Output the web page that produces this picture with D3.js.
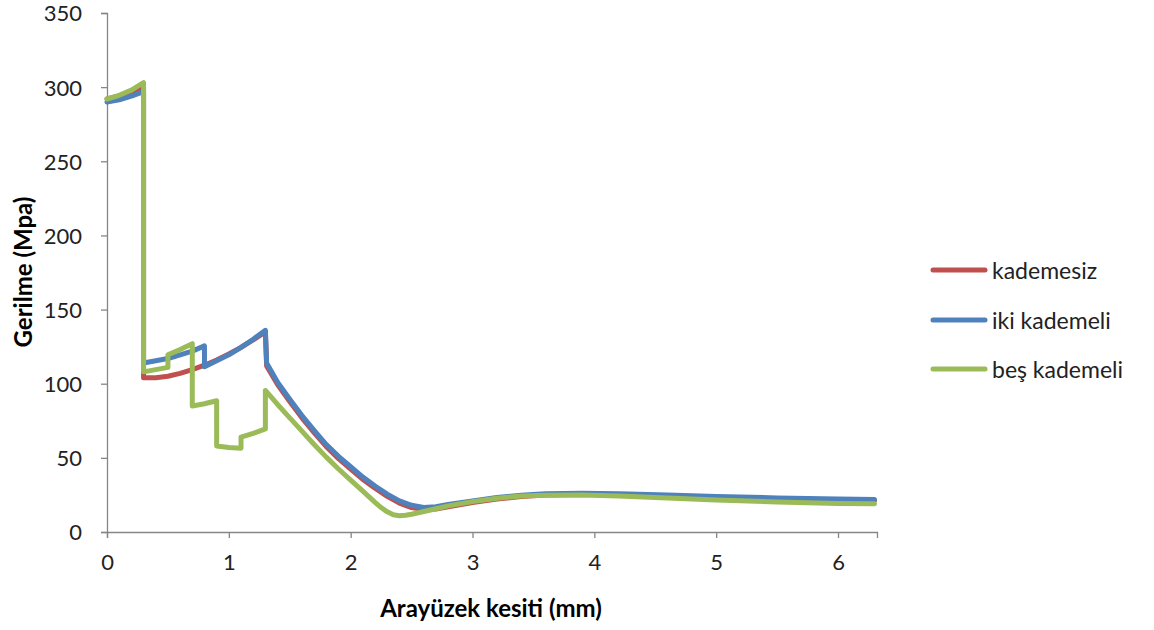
<!DOCTYPE html>
<html>
<head>
<meta charset="utf-8">
<script src="https://cdn.jsdelivr.net/npm/d3@7/dist/d3.min.js"></script>
<style>
  html, body { margin: 0; padding: 0; background: #fff; }
  svg { display: block; font-family: Lato, "Open Sans", sans-serif; }
</style>
</head>
<body>
<svg id="chart" width="1154" height="630"></svg>
<script>
// Stress along the interface section, three stepping variants
const xTicks = [0, 1, 2, 3, 4, 5, 6];
const yTicks = [0, 50, 100, 150, 200, 250, 300, 350];
const seriesNames = ["kademesiz", "iki kademeli", "beş kademeli"];

// [section (mm), stress (MPa)]
const kademesiz = [
  [0, 292], [0.1, 294], [0.2, 296.5], [0.3, 300], [0.3, 104], [0.4, 104], [0.5, 105],
  [0.6, 107], [0.7, 109.5], [0.8, 112.5], [0.9, 116], [1.0, 120], [1.1, 124.5],
  [1.2, 129.5], [1.3, 135], [1.31, 112], [1.4, 99.5], [1.5, 88], [1.6, 77], [1.7, 67],
  [1.8, 57.5], [1.9, 49.5], [2.0, 42.5], [2.1, 35.5], [2.2, 29.5], [2.3, 24],
  [2.4, 19.5], [2.5, 16.5], [2.6, 15.2], [2.7, 15.5], [2.8, 17], [3.0, 19.8],
  [3.2, 22.2], [3.4, 24], [3.6, 25], [3.9, 25.5], [4.2, 25.2], [4.6, 24.5],
  [5.0, 23.5], [5.5, 22.5], [6.0, 21.5], [6.3, 21.2]
];
const ikiKademeli = [
  [0, 290], [0.1, 291.5], [0.2, 294], [0.3, 297], [0.3, 114], [0.4, 115.5], [0.5, 117],
  [0.6, 119.5], [0.7, 122], [0.8, 125.5], [0.8, 111.5], [0.9, 115.5], [1.0, 119.5],
  [1.1, 124.5], [1.2, 130], [1.3, 136], [1.31, 114], [1.4, 101], [1.5, 89.5],
  [1.6, 78.5], [1.7, 68.5], [1.8, 59], [1.9, 51], [2.0, 44], [2.1, 37], [2.2, 31],
  [2.3, 25.5], [2.4, 21], [2.5, 18], [2.6, 16.5], [2.7, 17], [2.8, 18.5], [3.0, 21],
  [3.2, 23.2], [3.4, 24.8], [3.6, 25.8], [3.9, 26.2], [4.2, 25.8], [4.6, 25],
  [5.0, 24], [5.5, 23], [6.0, 22.3], [6.3, 22]
];
const besKademeli = [
  [0, 292], [0.1, 294.5], [0.2, 298], [0.3, 303], [0.3, 108], [0.4, 109.5], [0.5, 111],
  [0.5, 119.5], [0.6, 123], [0.7, 127], [0.7, 85], [0.8, 86.5], [0.9, 88.5], [0.9, 58],
  [1.0, 57], [1.1, 56.5], [1.1, 64], [1.2, 66.5], [1.3, 69.5], [1.3, 95.5], [1.4, 86],
  [1.5, 77], [1.6, 68], [1.7, 59], [1.8, 50.5], [1.9, 42.5], [2.0, 35], [2.1, 27.5],
  [2.2, 20], [2.25, 16.5], [2.3, 13.6], [2.35, 11.6], [2.4, 11], [2.45, 11.3],
  [2.5, 12], [2.6, 13.8], [2.7, 15.7], [2.8, 17.6], [3.0, 20.5], [3.2, 22.8],
  [3.4, 24.2], [3.6, 24.8], [3.9, 25], [4.2, 24.3], [4.6, 23], [5.0, 21.5],
  [5.5, 20.3], [6.0, 19.3], [6.3, 19]
];
const seriesData = [kademesiz, ikiKademeli, besKademeli];
const seriesColors = ["#C0504D", "#4F81BD", "#9BBB59"];

const svg = d3.select("#chart");
const plot = { left: 107, right: 877, top: 13, bottom: 532 };
const axisColor = "#868686";
const textColor = "#000";

const x = d3.scaleLinear().domain([0, 6.32]).range([plot.left, plot.right]);
const y = d3.scaleLinear().domain([0, 350]).range([plot.bottom, plot.top]);

// Y axis
const yAxis = svg.append("g")
  .attr("transform", `translate(${plot.left},0)`)
  .call(d3.axisLeft(y).tickValues(yTicks).tickSize(6).tickPadding(19).tickFormat(d3.format("d")));
// X axis
const xAxis = svg.append("g")
  .attr("transform", `translate(0,${plot.bottom})`)
  .call(d3.axisBottom(x).tickValues(xTicks).tickSize(6).tickPadding(12).tickFormat(d3.format("d")));

[yAxis, xAxis].forEach(g => {
  g.select(".domain").attr("stroke", axisColor).attr("stroke-width", 1.3);
  g.selectAll(".tick line").attr("stroke", axisColor).attr("stroke-width", 1.3);
  g.selectAll(".tick text")
    .attr("fill", "#222")
    .style("font-size", "22px")
    .style("font-family", "Lato, sans-serif");
});
xAxis.selectAll(".tick text").attr("dy", "0.9em");
yAxis.selectAll(".tick text").attr("dy", "0.36em");

// Series lines
const line = d3.line().x(d => x(d[0])).y(d => y(d[1]));
seriesData.forEach((data, i) => {
  svg.append("path")
    .datum(data)
    .attr("d", line)
    .attr("fill", "none")
    .attr("stroke", seriesColors[i])
    .attr("stroke-width", 5)
    .attr("stroke-linejoin", "round")
    .attr("stroke-linecap", "round");
});

// Axis titles
svg.append("text")
  .attr("x", 491).attr("y", 607)
  .attr("text-anchor", "middle").attr("dominant-baseline", "central")
  .style("font-size", "24px").style("font-weight", "bold").attr("fill", textColor)
  .text("Arayüzek kesiti (mm)");
svg.append("text")
  .attr("transform", "translate(22,272) rotate(-90)")
  .attr("text-anchor", "middle").attr("dominant-baseline", "central")
  .style("font-size", "24px").style("font-weight", "bold").attr("fill", textColor)
  .text("Gerilme (Mpa)");

// Legend
const legend = svg.append("g");
const legendY = [270, 320, 369];
seriesNames.forEach((name, i) => {
  legend.append("line")
    .attr("x1", 933).attr("x2", 985)
    .attr("y1", legendY[i]).attr("y2", legendY[i])
    .attr("stroke", seriesColors[i]).attr("stroke-width", 5)
    .attr("stroke-linecap", "round");
  legend.append("text")
    .attr("x", 992).attr("y", legendY[i])
    .attr("dominant-baseline", "central")
    .style("font-size", "23px").attr("fill", "#222")
    .text(name);
});
</script>
</body>
</html>
